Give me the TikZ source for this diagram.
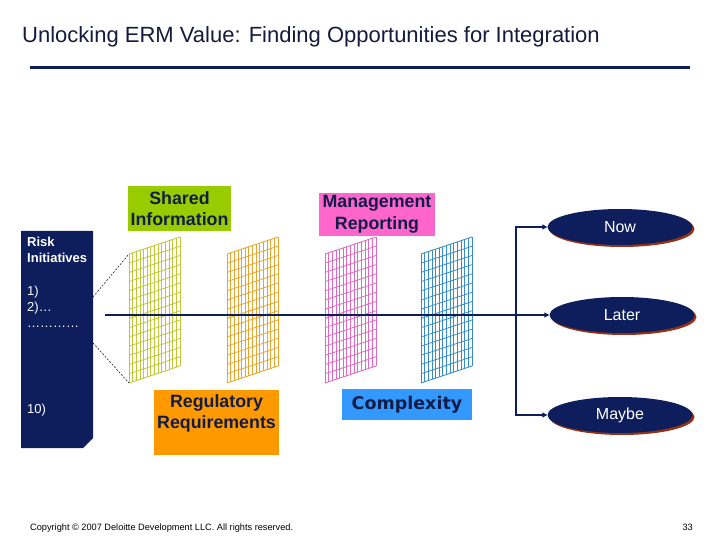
\documentclass[tikz,border=0pt]{standalone}
\usepackage{fontspec}
\setmainfont{Liberation Sans}
\newfontfamily\verdanafont{DejaVu Sans}
\usepackage{xcolor}
\usetikzlibrary{arrows.meta,positioning,shapes.geometric,shadows}
\definecolor{navy}{RGB}{14,30,92}
\definecolor{titlegray}{RGB}{22,26,60}
\definecolor{labeltext}{RGB}{18,28,72}
\definecolor{shadowred}{RGB}{150,50,20}
\definecolor{greenlbl}{RGB}{153,204,0}
\definecolor{orangelbl}{RGB}{255,153,0}
\definecolor{pinklbl}{RGB}{255,102,204}
\definecolor{bluelbl}{RGB}{51,153,255}
\definecolor{greengrid}{RGB}{190,200,55}
\definecolor{orangegrid}{RGB}{232,165,45}
\definecolor{pinkgrid}{RGB}{222,105,195}
\definecolor{bluegrid}{RGB}{55,140,200}

\begin{document}
\begin{tikzpicture}[x=1pt, y=-1pt, >={Triangle[length=5pt,width=5pt]},
  label/.style={align=center, inner sep=0pt, text=labeltext, font=\fontsize{17.8}{21.5}\selectfont\bfseries},
  oval/.style={ellipse, fill=navy, text=white, minimum width=145, minimum height=36, inner sep=0pt,
    font=\fontsize{16}{19}\selectfont, drop shadow={shadow xshift=2pt, shadow yshift=-2pt, fill=shadowred, opacity=1}},
  line/.style={->, navy, line width=2pt},
  riskitem/.style={anchor=base west, inner sep=0pt, text=white, font=\fontsize{13}{16}\selectfont},
  mesh/.style={line width=0.8pt}]
\useasboundingbox (0,0) rectangle (720,540);

% title
\node[anchor=base west, inner sep=0pt, text=titlegray, font=\fontsize{22}{26}\selectfont] (title) at (22,43)
  {Unlocking ERM Value: Finding Opportunities for Integration};
\draw[navy, line width=3pt] (30,68) -- (690,68);

% risk initiatives column
\fill[navy] (21,231) -- (93,231) -- (93,438) -- (83,448) -- (21,448) -- cycle;
\node[riskitem, font=\fontsize{13}{16}\selectfont\bfseries] (riskhead) at (27,246) {Risk};
\node[riskitem, font=\fontsize{13}{16}\selectfont\bfseries] (riskhead2) at (27,262) {Initiatives};
\node[riskitem] (item1) at (27,295) {1)};
\node[riskitem] (item2) at (27,311) {2)\ldots};
\node[riskitem] (itemdots) at (27,327) {\ldots\ldots\ldots\ldots};
\node[riskitem] (item10) at (27,413) {10)};
\coordinate (riskA) at (93,297);
\coordinate (riskB) at (93,343);

% grids
\foreach \gx/\gc/\gn in {129/greengrid/gshared, 227/orangegrid/greg, 325/pinkgrid/gmgmt, 421/bluegrid/gcompl}{
  \foreach \i in {0,...,14}
    \draw[mesh, \gc] (\gx+\i*51/14, 254-\i*17/14) -- ++(0,129);
  \foreach \j in {0,...,14}
    \draw[mesh, \gc] (\gx, 254+\j*129/14) -- ++(51,-17);
  \coordinate (\gn-tl) at (\gx,254);
  \coordinate (\gn-bl) at (\gx,383);
}
\draw[dashed, dash pattern=on 2pt off 1.5pt, line width=0.5pt] (riskA) -- (gshared-tl);
\draw[dashed, dash pattern=on 2pt off 1.5pt, line width=0.5pt] (riskB) -- (gshared-bl);

% labels
\node[label, fill=greenlbl, minimum width=103, minimum height=45] (shared) at (179.5,208.5) {Shared\\Information};
\node[label, fill=orangelbl, minimum width=125, minimum height=65] (regreq) at (216.5,422.5) {};
\node[label] (regreqtext) at ([yshift=9pt]regreq.center) {Regulatory\\Requirements};
\node[label, fill=pinklbl, minimum width=116, minimum height=43] (mgmt) at (377,214.5) {Management\\Reporting};
\node[label, fill=bluelbl, minimum width=130, minimum height=31, font=\verdanafont\fontsize{17.5}{20}\selectfont\bfseries] (complexity) at (407,404.5) {Complexity};

% outcomes
\node[oval] (now) at (620,227) {Now};
\node[oval] (later) at (622,315) {Later};
\node[oval] (maybe) at (620,415) {Maybe};

\coordinate (start) at (105,315);
\coordinate (split) at (516,315);
\draw[line] (start) -- (later);
\draw[line] (split) |- (now);
\draw[line] (split) |- (maybe);

% footer
\node[anchor=base west, inner sep=0pt, font=\fontsize{9.2}{11}\selectfont] (copyright) at (30,530)
  {Copyright \textcopyright{} 2007 Deloitte Development LLC. All rights reserved.};
\node[anchor=base east, inner sep=0pt, font=\fontsize{9.2}{11}\selectfont] (pagenum) at (693,530) {33};
\end{tikzpicture}
\end{document}
